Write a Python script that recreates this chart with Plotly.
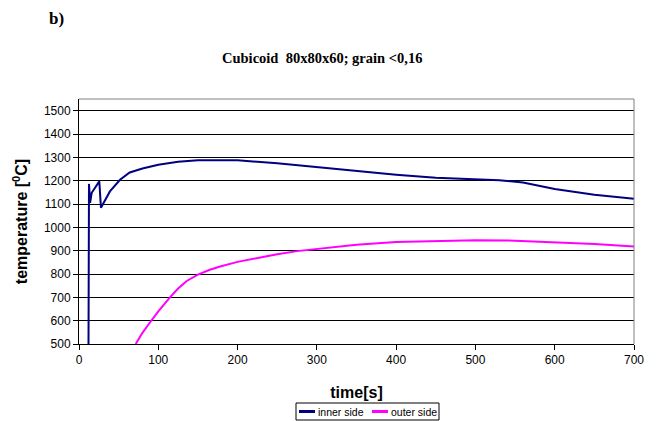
import plotly.graph_objects as go

inner_t = [12, 12.6, 14, 16, 25.6, 27.7, 39, 51.7, 64, 80, 100, 125, 150, 175, 200, 250, 300, 350, 400, 450, 500, 530, 560, 600, 650, 700]
inner_T = [500, 1186, 1105, 1148, 1197, 1084, 1154, 1204, 1235, 1252, 1268, 1281, 1288, 1289, 1287, 1275, 1258, 1241, 1225, 1212, 1205, 1202, 1192, 1164, 1140, 1122]

outer_t = [71.5, 80, 89.5, 100, 114.7, 125, 135.8, 150, 165, 178, 200, 225, 250, 275, 300, 350, 400, 450, 500, 550, 600, 650, 700]
outer_T = [500, 548, 592, 640, 700, 738, 770, 797, 818, 832, 852, 870, 885, 898, 908, 925, 937, 942, 945, 943, 937, 929, 918]

x_ticks = [0, 100, 200, 300, 400, 500, 600, 700]
y_ticks = [500, 600, 700, 800, 900, 1000, 1100, 1200, 1300, 1400, 1500]

series_names = ["inner side", "outer side"]
series_colors = ["#000080", "#FF00FF"]

W, H = 657, 421
L, R, T, B = 79, 634, 99, 344


def px(xp):
    return (xp - L) / (R - L)


def py(yp):
    return (B - yp) / (B - T)


fig = go.Figure()
fig.add_trace(go.Scatter(x=inner_t, y=inner_T, mode="lines", name=series_names[0],
                         line=dict(color=series_colors[0], width=2)))
fig.add_trace(go.Scatter(x=outer_t, y=outer_T, mode="lines", name=series_names[1],
                         line=dict(color=series_colors[1], width=2)))

shapes = [
    dict(type="line", xref="paper", yref="paper", x0=0, x1=1, y0=1, y1=1,
         line=dict(color="#808080", width=1)),
    dict(type="line", xref="paper", yref="paper", x0=1, x1=1, y0=0, y1=1,
         line=dict(color="#808080", width=1)),
    # legend box
    dict(type="rect", xref="paper", yref="paper", x0=px(296), x1=px(439), y0=py(420), y1=py(403),
         line=dict(color="black", width=1), fillcolor="white"),
    dict(type="line", xref="paper", yref="paper", x0=px(299), x1=px(315), y0=py(411.5), y1=py(411.5),
         line=dict(color=series_colors[0], width=3)),
    dict(type="line", xref="paper", yref="paper", x0=px(372), x1=px(388), y0=py(411.5), y1=py(411.5),
         line=dict(color=series_colors[1], width=3)),
]

annotations = [
    dict(text="<b>b)</b>", xref="paper", yref="paper", x=px(56), y=py(18),
         xanchor="center", yanchor="middle", showarrow=False,
         font=dict(family="Liberation Serif, Times New Roman", size=17, color="black")),
    dict(text="<b>Cubicoid  80x80x60; grain &lt;0,16</b>", xref="paper", yref="paper",
         x=px(321.5), y=py(58), xanchor="center", yanchor="middle", showarrow=False,
         font=dict(family="Liberation Serif, Times New Roman", size=14.5, color="black")),
    dict(text=series_names[0], xref="paper", yref="paper", x=px(316), y=py(411.5),
         xanchor="left", yanchor="middle", showarrow=False,
         font=dict(family="Liberation Sans, Arial", size=10.5, color="black")),
    dict(text=series_names[1], xref="paper", yref="paper", x=px(389), y=py(411.5),
         xanchor="left", yanchor="middle", showarrow=False,
         font=dict(family="Liberation Sans, Arial", size=10.5, color="black")),
]

fig.update_layout(
    width=W, height=H,
    margin=dict(l=L, r=W - R, t=T, b=H - B, autoexpand=False),
    paper_bgcolor="white", plot_bgcolor="white",
    font=dict(family="Liberation Sans, Arial", size=12, color="black"),
    showlegend=False,
    xaxis=dict(range=[0, 700], tickvals=x_ticks, showgrid=False, zeroline=False,
               showline=True, linecolor="black", linewidth=1,
               ticks="outside", ticklen=5, tickcolor="black",
               title=dict(text="<b>time[s]</b>", font=dict(size=16), standoff=20)),
    yaxis=dict(range=[500, 1550], tickvals=y_ticks, showgrid=True, gridcolor="black", gridwidth=1,
               zeroline=False, showline=True, linecolor="black", linewidth=1,
               ticks="outside", ticklen=5, tickcolor="black",
               title=dict(text="<b>temperature [<sup>0</sup>C]</b>", font=dict(size=16), standoff=12)),
    shapes=shapes,
    annotations=annotations,
)

fig.write_html("out.html", config={"displayModeBar": False},
               post_script="document.body.style.margin='0';document.body.style.overflow='hidden';")
